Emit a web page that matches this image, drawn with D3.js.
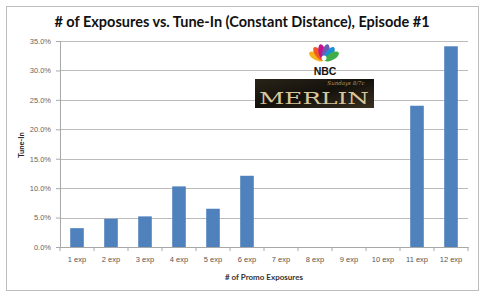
<!DOCTYPE html>
<html>
<head>
<meta charset="utf-8">
<script src="https://cdn.jsdelivr.net/npm/d3@7"></script>
<style>
  body { margin: 0; background: #fff; }
  svg { display: block; font-family: Lato, "Open Sans", sans-serif; }
</style>
</head>
<body>
<div id="chart"></div>
<script>
// chart values
var categories = ["1 exp", "2 exp", "3 exp", "4 exp", "5 exp", "6 exp", "7 exp", "8 exp", "9 exp", "10 exp", "11 exp", "12 exp"];
var tuneIn = [3.2, 4.8, 5.2, 10.3, 6.5, 12.1, 0, 0, 0, 0, 24.0, 34.1];
var yTicks = [0, 5, 10, 15, 20, 25, 30, 35];
var peacockColors = ["#f6b21b", "#ef5a24", "#c6138b", "#6d5bb2", "#1c8fd3", "#3fae49"];

var W = 485, H = 296;
var margin = {top: 41, right: 17, bottom: 49, left: 60},
    width = W - margin.left - margin.right,
    height = H - margin.top - margin.bottom;

var svg = d3.select("#chart").append("svg")
    .attr("width", W)
    .attr("height", H);

// outer chart frame
svg.append("rect")
    .attr("x", 6.5).attr("y", 6.5)
    .attr("width", 472).attr("height", 284)
    .attr("fill", "#fff")
    .attr("stroke", "#bdbdbd");

svg.append("text")
    .attr("x", 242).attr("y", 27)
    .attr("text-anchor", "middle")
    .style("font-size", "14.5px")
    .style("font-weight", "bold")
    .attr("fill", "#111")
    .text("# of Exposures vs. Tune-In (Constant Distance), Episode #1");

var g = svg.append("g")
    .attr("transform", "translate(" + margin.left + "," + margin.top + ")");

var x = d3.scaleBand()
    .domain(categories)
    .range([0, width])
    .paddingInner(0.6)
    .paddingOuter(0.3);

var y = d3.scaleLinear()
    .domain([0, 35])
    .range([height, 0]);

// gridlines
g.selectAll(".grid")
    .data(yTicks.slice(1))
    .enter().append("line")
    .attr("x1", 0).attr("x2", width)
    .attr("y1", function(d) { return Math.round(y(d)) + 0.5; })
    .attr("y2", function(d) { return Math.round(y(d)) + 0.5; })
    .attr("stroke", "#bcbcbc");

// y axis
var yAxis = g.append("g")
    .call(d3.axisLeft(y)
        .tickValues(yTicks)
        .tickSize(4)
        .tickFormat(function(d) { return d.toFixed(1) + "%"; }));
yAxis.select(".domain").attr("stroke", "#a8a8a8");
yAxis.selectAll(".tick line").attr("stroke", "#a8a8a8");
yAxis.selectAll("text").attr("fill", "#666").style("font-size", "7.5px").attr("x", -9);

// x axis, ticks sit between the categories
var xAxis = g.append("g")
    .attr("transform", "translate(0," + height + ")")
    .call(d3.axisBottom(x).tickSize(0).tickPadding(10));
xAxis.select(".domain").attr("stroke", "#a8a8a8");
xAxis.selectAll("text").attr("fill", "#555").style("font-size", "7.5px");
var step = x.step();
g.selectAll(".xtick")
    .data(d3.range(categories.length + 1))
    .enter().append("line")
    .attr("x1", function(i) { return x(categories[0]) - step * 0.3 + i * step; })
    .attr("x2", function(i) { return x(categories[0]) - step * 0.3 + i * step; })
    .attr("y1", height).attr("y2", height + 4)
    .attr("stroke", "#a8a8a8");

// bars
g.selectAll(".bar")
    .data(tuneIn)
    .enter().append("rect")
    .attr("x", function(d, i) { return x(categories[i]); })
    .attr("y", function(d) { return y(d); })
    .attr("width", x.bandwidth())
    .attr("height", function(d) { return height - y(d); })
    .attr("fill", "#4f81bd");

// axis titles
svg.append("text")
    .attr("x", margin.left + width / 2).attr("y", 280)
    .attr("text-anchor", "middle")
    .style("font-size", "8px").style("font-weight", "bold")
    .attr("fill", "#333")
    .text("# of Promo Exposures");

svg.append("text")
    .attr("transform", "translate(24,145) rotate(-90)")
    .attr("text-anchor", "middle")
    .style("font-size", "7.5px").style("font-weight", "bold")
    .attr("fill", "#222")
    .text("Tune-In");

// NBC / Merlin logo
var logo = svg.append("g");
var pc = {x: 324, y: 61};
peacockColors.forEach(function(c, i) {
    var ang = -150 + i * 24;
    logo.append("ellipse")
        .attr("cx", 0).attr("cy", -9)
        .attr("rx", 3.6).attr("ry", 8)
        .attr("fill", c)
        .attr("transform", "translate(" + pc.x + "," + pc.y + ") rotate(" + (ang + 90) + ")");
});
logo.append("circle").attr("cx", pc.x).attr("cy", pc.y - 3).attr("r", 2.5).attr("fill", "#fff");
logo.append("text")
    .attr("x", 325).attr("y", 75)
    .attr("text-anchor", "middle")
    .style("font-size", "10.5px").style("font-weight", "bold")
    .style("font-family", "'Liberation Sans', Arial, sans-serif")
    .attr("fill", "#111")
    .text("NBC");

var grad = svg.append("defs").append("linearGradient")
    .attr("id", "merlinBg").attr("x1", 0).attr("x2", 1).attr("y1", 0).attr("y2", 1);
grad.append("stop").attr("offset", "0%").attr("stop-color", "#2a2418");
grad.append("stop").attr("offset", "50%").attr("stop-color", "#14110c");
grad.append("stop").attr("offset", "100%").attr("stop-color", "#3a3020");
logo.append("rect")
    .attr("x", 255).attr("y", 79)
    .attr("width", 119).attr("height", 29)
    .attr("fill", "url(#merlinBg)");
logo.append("text")
    .attr("x", 346).attr("y", 85)
    .attr("text-anchor", "middle")
    .style("font-size", "5.5px").style("font-style", "italic")
    .style("font-family", "'DejaVu Serif', serif")
    .attr("fill", "#b49a5c")
    .text("Sundays 8/7c");
logo.append("text")
    .attr("x", 314).attr("y", 104)
    .attr("text-anchor", "middle")
    .attr("textLength", 110)
    .attr("lengthAdjust", "spacingAndGlyphs")
    .style("font-size", "16px")
    .style("font-family", "'DejaVu Serif', serif")
    .attr("fill", "#d8c79a")
    .text("MERLIN");
</script>
</body>
</html>
